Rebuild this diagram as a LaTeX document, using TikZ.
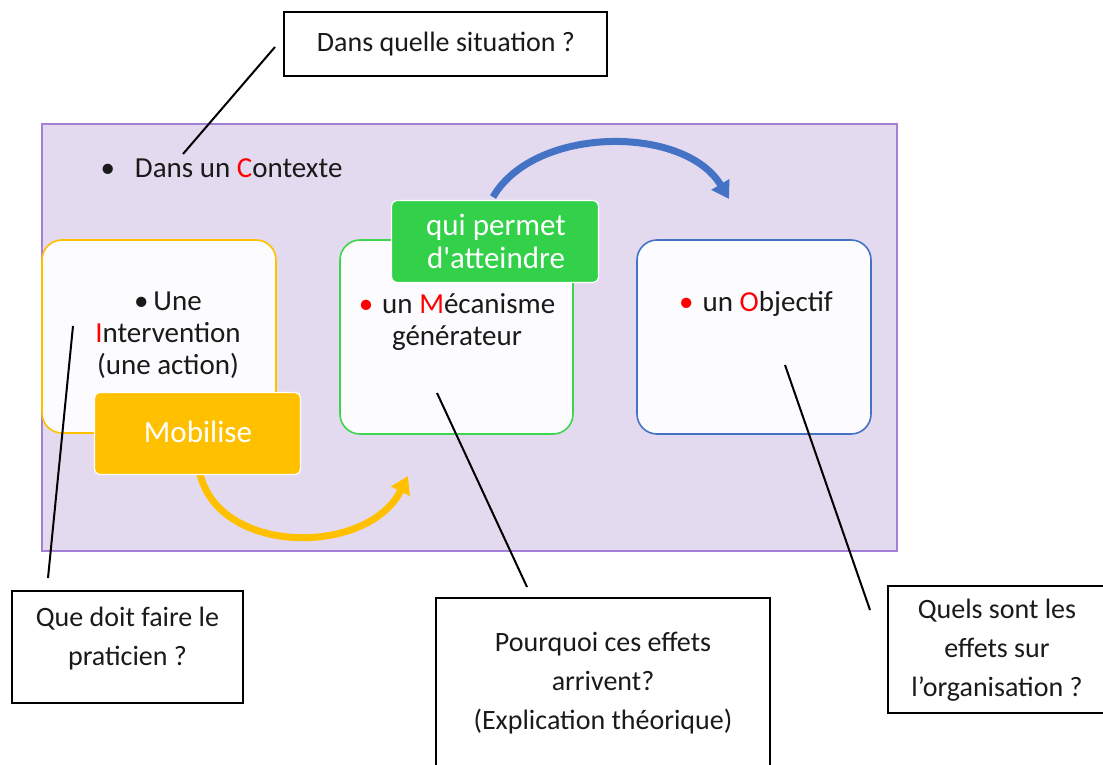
\documentclass[tikz,border=0pt]{standalone}
\usepackage{fontspec}
\setmainfont{Carlito}[Ligatures=TeXOff]
\usetikzlibrary{arrows.meta,positioning}
\definecolor{bgpurple}{HTML}{E4DAEF}
\definecolor{bgborder}{HTML}{A47FD6}
\definecolor{yel}{HTML}{FFC000}
\definecolor{grn}{HTML}{33D14A}
\definecolor{grnb}{HTML}{3ED54E}
\definecolor{blu}{HTML}{4472C4}
\definecolor{boxfill}{HTML}{FCFCFF}
\definecolor{txt}{HTML}{1A1A1A}
\tikzset{
  qbox/.style={draw=black, line width=2pt, fill=white, inner sep=0pt},
  qtext/.style={align=center, text=txt, font=\fontsize{28}{39}\selectfont},
  mbox/.style={line width=1.6pt, fill=boxfill, rounded corners=20pt, inner sep=0pt},
  mtext/.style={align=center, text=txt, font=\fontsize{29}{32}\selectfont},
  tagbox/.style={draw=white, line width=1.2pt, rounded corners=6pt, inner sep=0pt},
  tagtext/.style={align=center, text=white, font=\fontsize{31}{33}\selectfont},
  pointer/.style={draw=black, line width=2pt},
  bigarrow/.style={line width=7pt, -{Triangle[length=17pt,width=20pt]}}
}
\newcommand{\rd}[1]{\textcolor{red}{#1}}
\begin{document}
\begin{tikzpicture}[x=1pt,y=-1pt]
\useasboundingbox (0,0) rectangle (1103,765);
\fill[white] (0,0) rectangle (1103,765);

% background context area
\node[draw=bgborder, line width=1.2pt, fill=bgpurple, minimum width=855pt, minimum height=427pt, inner sep=0pt] (ctx) at (469.5,337.5) {};
\node[anchor=base west, mtext] (ctxtext) at (97,177) {\textbullet\hspace{20pt}Dans un \rd{C}ontexte};

% three main boxes
\node[mbox, draw=yel, minimum width=234pt, minimum height=193pt] (interv) at (159,336.5) {};
\node[mbox, draw=grnb, minimum width=233pt, minimum height=194pt] (meca) at (456.5,337) {};
\node[mbox, draw=blu, minimum width=234pt, minimum height=194pt] (obj) at (754,337) {};

\node[mtext] (intervtext) at (168,335) {\textbullet\,Une\\\rd{I}ntervention\\(une action)};
\node[mtext] (mecatext) at (457,322) {\rd{\textbullet}\hspace{9pt}un \rd{M}écanisme\\générateur};
\node[mtext] (objtext) at (756,304) {\rd{\textbullet}\hspace{9pt}un \rd{O}bjectif};

% arrows
\coordinate (ya) at (200,474);
\coordinate (yb) at (408,476);
\draw[bigarrow, yel] (ya) .. controls (220,556) and (368,556) .. (yb);
\coordinate (ba) at (493,197);
\coordinate (bb) at (729,199);
\draw[bigarrow, blu] (ba) .. controls (535,125) and (685,125) .. (bb);

% tags
\node[tagbox, fill=yel, minimum width=206pt, minimum height=82pt] (mob) at (197.5,433.5) {};
\node[tagtext] (mobtext) at (198,432) {Mobilise};
\node[tagbox, fill=grn, minimum width=207pt, minimum height=82pt] (perm) at (495,241.5) {};
\node[tagtext] (permtext) at (496,241) {qui permet\\d'atteindre};

% question boxes
\node[qbox, minimum width=323pt, minimum height=64pt] (sit) at (445.5,44) {};
\node[qtext] (sittext) at (446,44) {Dans quelle situation ?};

\node[qbox, minimum width=231pt, minimum height=112pt] (prat) at (127.5,647) {};
\node[qtext] (pratttext) at (127.5,639) {Que doit faire le\\praticien ?};

\node[qbox, minimum width=334pt, minimum height=180pt] (pourq) at (603,688) {};
\node[qtext] (pourqtext) at (603,683) {Pourquoi ces effets\\arrivent?\\(Explication théorique)};

\node[qbox, minimum width=230pt, minimum height=127pt] (quels) at (1003,649.5) {};
\node[qtext] (quelstext) at (997,650) {Quels sont les\\effets sur\\l’organisation ?};

% pointers
\coordinate (p1a) at (275,47);
\coordinate (p1b) at (183,154);
\draw[pointer] (p1a) -- (p1b);
\coordinate (p2a) at (73,326);
\coordinate (p2b) at (48,578);
\draw[pointer] (p2a) -- (p2b);
\coordinate (p3a) at (437,393);
\coordinate (p3b) at (527,587);
\draw[pointer] (p3a) -- (p3b);
\coordinate (p4a) at (785,365);
\coordinate (p4b) at (870,610);
\draw[pointer] (p4a) -- (p4b);
\end{tikzpicture}
\end{document}
